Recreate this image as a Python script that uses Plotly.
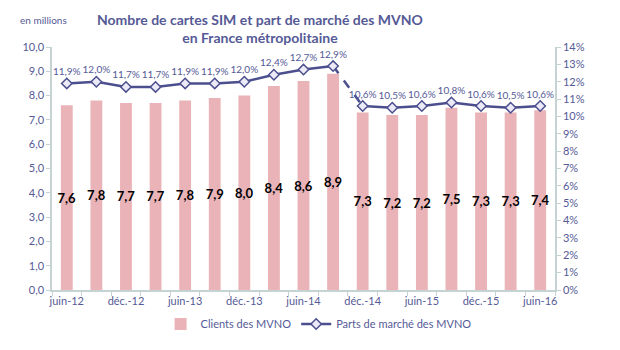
import plotly.graph_objects as go

categories = ["juin-12", "sept.-12", "déc.-12", "mars-13", "juin-13", "sept.-13", "déc.-13",
              "mars-14", "juin-14", "sept.-14", "déc.-14", "mars-15", "juin-15", "sept.-15",
              "déc.-15", "mars-16", "juin-16"]
clients = [7.6, 7.8, 7.7, 7.7, 7.8, 7.9, 8.0, 8.4, 8.6, 8.9, 7.3, 7.2, 7.2, 7.5, 7.3, 7.3, 7.4]
parts = [11.9, 12.0, 11.7, 11.7, 11.9, 11.9, 12.0, 12.4, 12.7, 12.9, 10.6, 10.5, 10.6, 10.8, 10.6, 10.5, 10.6]
xtick_labels = ["juin-12", "déc.-12", "juin-13", "déc.-13", "juin-14", "déc.-14", "juin-15", "déc.-15", "juin-16"]
left_ticks = [0, 1, 2, 3, 4, 5, 6, 7, 8, 9, 10]
right_ticks = list(range(0, 15))

FONT = "Lato, Carlito, Calibri, sans-serif"
BLUE = "#555a96"
LINE = "#4c4f8e"
PINK = "#e9b3b7"
AXIS = "#c5d3d3"

def fr(v, d=1):
    return f"{v:.{d}f}".replace(".", ",")

x = list(range(len(categories)))
brk = 9  # dashed segment between index 9 and 10

fig = go.Figure()
fig.add_trace(go.Bar(
    x=x, y=clients, name="Clients des MVNO", marker=dict(color=PINK, line=dict(width=0)),
    width=0.4, text=[fr(v) for v in clients], textposition="inside", insidetextanchor="middle",
    textangle=0, constraintext="none", cliponaxis=False,
    textfont=dict(family=FONT, size=13, color="black", weight="bold"),
    yaxis="y", hoverinfo="skip"))

marker = dict(symbol="diamond", size=8, color="#eceaf6", line=dict(color=LINE, width=1.5))
# dashed connector
fig.add_trace(go.Scatter(
    x=x[brk:brk + 2], y=parts[brk:brk + 2], mode="lines",
    line=dict(color=LINE, width=2.5, dash="dash"), yaxis="y2", showlegend=False, hoverinfo="skip"))
fig.add_trace(go.Scatter(
    x=x[:brk + 1], y=parts[:brk + 1], mode="lines+markers+text", name="Parts de marché des MVNO",
    line=dict(color=LINE, width=2.5), marker=marker,
    text=[fr(v) + "%" for v in parts[:brk + 1]], textposition="top center",
    textfont=dict(family=FONT, size=10, color=BLUE), yaxis="y2", hoverinfo="skip"))
fig.add_trace(go.Scatter(
    x=x[brk + 1:], y=parts[brk + 1:], mode="lines+markers+text", name="Parts de marché des MVNO",
    line=dict(color=LINE, width=2.5), marker=marker, showlegend=False,
    text=[fr(v) + "%" for v in parts[brk + 1:]], textposition="top center",
    textfont=dict(family=FONT, size=10, color=BLUE), yaxis="y2", hoverinfo="skip"))

fig.update_layout(
    width=620, height=350, margin=dict(l=52, r=65, t=47, b=46),
    paper_bgcolor="white", plot_bgcolor="white",
    font=dict(family=FONT, color=BLUE, size=11),
    xaxis=dict(range=[-0.5, len(categories) - 0.5], tickmode="array",
               tickvals=[i for i in x if i % 2 == 0], ticktext=xtick_labels, ticks="",
               showline=True, linecolor=AXIS, linewidth=1.5, showgrid=False, zeroline=False,
               tickfont=dict(size=11, color=BLUE),
               minor=dict(tickmode="linear", tick0=-0.5, dtick=1, ticks="outside", ticklen=4,
                          tickcolor=AXIS, tickwidth=1)),
    yaxis=dict(range=[0, 10], tickmode="array", tickvals=left_ticks,
               ticktext=[fr(v) for v in left_ticks], ticks="outside", ticklen=4, tickcolor=AXIS,
               showline=True, linecolor=AXIS, linewidth=1.5, showgrid=False, zeroline=False,
               tickfont=dict(size=11, color=BLUE)),
    yaxis2=dict(range=[0, 14], overlaying="y", side="right", tickmode="array", tickvals=right_ticks,
                ticktext=[f"{v}%" for v in right_ticks], ticks="outside", ticklen=4, tickcolor=AXIS,
                showline=True, linecolor=AXIS, linewidth=1.5, showgrid=False, zeroline=False,
                tickfont=dict(size=11, color=BLUE)),
    legend=dict(orientation="h", x=0.53, xanchor="center", y=-0.14, yanchor="middle",
                font=dict(size=11, color=BLUE), bgcolor="rgba(0,0,0,0)"),
    bargap=0.6, showlegend=True,
    annotations=[
        dict(text="<b>Nombre de cartes SIM et part de marché des MVNO<br>en France métropolitaine</b>",
             xref="paper", yref="paper", x=0.413, y=1.075, xanchor="center", yanchor="middle",
             showarrow=False, font=dict(family=FONT, size=14, color=BLUE)),
        dict(text="en millions", xref="paper", yref="paper", x=-0.068, y=1.11,
             xanchor="left", yanchor="middle", showarrow=False,
             font=dict(size=10, color=BLUE)),
    ],
)

fig.write_html("out.html")
